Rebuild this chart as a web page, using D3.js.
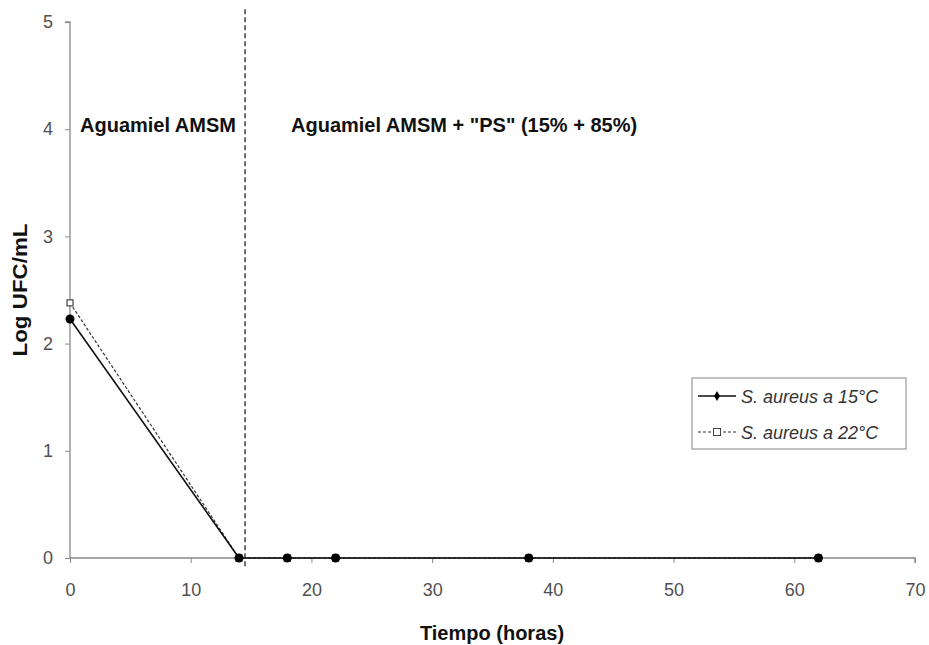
<!DOCTYPE html>
<html>
<head>
<meta charset="utf-8">
<script src="https://cdn.jsdelivr.net/npm/d3@7"></script>
<style>
  body { margin: 0; background: #fff; }
  svg { font-family: "Liberation Sans", Arial, sans-serif; }
</style>
</head>
<body>
<svg id="chart" width="929" height="645"></svg>
<script>
// data
const hours = [0, 14, 18, 22, 38, 62];
const aureus15 = [2.23, 0, 0, 0, 0, 0];
const aureus22 = [2.38, 0, 0, 0, 0, 0];
const seriesNames = ["S. aureus a 15°C", "S. aureus a 22°C"];
const xTicks = [0, 10, 20, 30, 40, 50, 60, 70];
const yTicks = [0, 1, 2, 3, 4, 5];
const phaseChange = 14.5;

const svg = d3.select("#chart");
const plotL = 70, plotR = 915, plotT = 22, plotB = 558;

const x = d3.scaleLinear().domain([0, 70]).range([plotL, plotR]);
const y = d3.scaleLinear().domain([0, 5]).range([plotB, plotT]);

const axisCol = "#8a8a8a";
const tickTxt = "#505050";

// axes
const xAxis = svg.append("g")
  .attr("transform", `translate(0,${plotB})`)
  .call(d3.axisBottom(x).tickValues(xTicks).tickFormat(d3.format("d"))
    .tickSize(5).tickPadding(20));
const yAxis = svg.append("g")
  .attr("transform", `translate(${plotL},0)`)
  .call(d3.axisLeft(y).tickValues(yTicks).tickFormat(d3.format("d"))
    .tickSize(5).tickPadding(12));

[xAxis, yAxis].forEach(g => {
  g.select(".domain").attr("stroke", axisCol).attr("stroke-width", 1.3);
  g.selectAll(".tick line").attr("stroke", axisCol);
  g.selectAll(".tick text")
    .attr("fill", tickTxt)
    .attr("font-size", "18px");
});
xAxis.select(".domain").attr("d", `M${plotL},0H${plotR}V5`);
yAxis.select(".domain").attr("d", `M-5,${plotT}H0V${plotB}`);

// divider between the two phases
svg.append("line")
  .attr("x1", x(phaseChange)).attr("x2", x(phaseChange))
  .attr("y1", y(5.12)).attr("y2", y(-0.1))
  .attr("stroke", "#222")
  .attr("stroke-width", 1.3)
  .attr("stroke-dasharray", "5,3");

// phase labels
svg.append("text")
  .attr("x", 80).attr("y", 132)
  .attr("font-size", "20px").attr("font-weight", "bold").attr("fill", "#111")
  .text("Aguamiel AMSM");
svg.append("text")
  .attr("x", 291).attr("y", 132)
  .attr("font-size", "20px").attr("font-weight", "bold").attr("fill", "#111")
  .text("Aguamiel AMSM + \"PS\" (15% + 85%)");

// lines
const line = vals => d3.line()
  .x((d, i) => x(hours[i]))
  .y(d => y(d))(vals);

svg.append("path")
  .attr("d", line(aureus22))
  .attr("fill", "none")
  .attr("stroke", "#333")
  .attr("stroke-width", 1.2)
  .attr("stroke-dasharray", "3,2");

svg.append("path")
  .attr("d", line(aureus15))
  .attr("fill", "none")
  .attr("stroke", "#111")
  .attr("stroke-width", 1.6);

// markers
svg.selectAll(".m22")
  .data(aureus22)
  .join("rect")
  .attr("x", (d, i) => x(hours[i]) - 3)
  .attr("y", d => y(d) - 3)
  .attr("width", 6).attr("height", 6)
  .attr("fill", "#fff")
  .attr("stroke", "#444")
  .attr("stroke-width", 1.2);

svg.selectAll(".m15")
  .data(aureus15)
  .join("circle")
  .attr("cx", (d, i) => x(hours[i]))
  .attr("cy", d => y(d))
  .attr("r", 4.5)
  .attr("fill", "#000");

// axis titles
svg.append("text")
  .attr("x", 492).attr("y", 640)
  .attr("text-anchor", "middle")
  .attr("font-size", "20px").attr("font-weight", "bold").attr("fill", "#111")
  .text("Tiempo (horas)");
svg.append("text")
  .attr("transform", "translate(27,290) rotate(-90) scale(1.12,1)")
  .attr("text-anchor", "middle")
  .attr("font-size", "20px").attr("font-weight", "bold").attr("fill", "#111")
  .text("Log UFC/mL");

// legend
const lg = svg.append("g").attr("transform", "translate(692,378)");
lg.append("rect")
  .attr("width", 214).attr("height", 71)
  .attr("fill", "#fff")
  .attr("stroke", "#999")
  .attr("stroke-width", 1.2);

seriesNames.forEach((name, i) => {
  const row = lg.append("g").attr("transform", `translate(0,${18 + i * 36})`);
  row.append("line")
    .attr("x1", 6).attr("x2", 44)
    .attr("stroke", i === 0 ? "#111" : "#333")
    .attr("stroke-width", i === 0 ? 1.6 : 1.2)
    .attr("stroke-dasharray", i === 0 ? null : "3,2");
  if (i === 0) {
    row.append("path")
      .attr("d", d3.symbol(d3.symbolDiamond, 30)())
      .attr("transform", "translate(25,0)")
      .attr("fill", "#000");
  } else {
    row.append("rect")
      .attr("x", 21.5).attr("y", -3.5)
      .attr("width", 7).attr("height", 7)
      .attr("fill", "#fff").attr("stroke", "#444");
  }
  row.append("text")
    .attr("x", 49).attr("y", 6.5)
    .attr("font-size", "18px").attr("font-style", "italic").attr("fill", "#333")
    .text(name);
});
</script>
</body>
</html>
